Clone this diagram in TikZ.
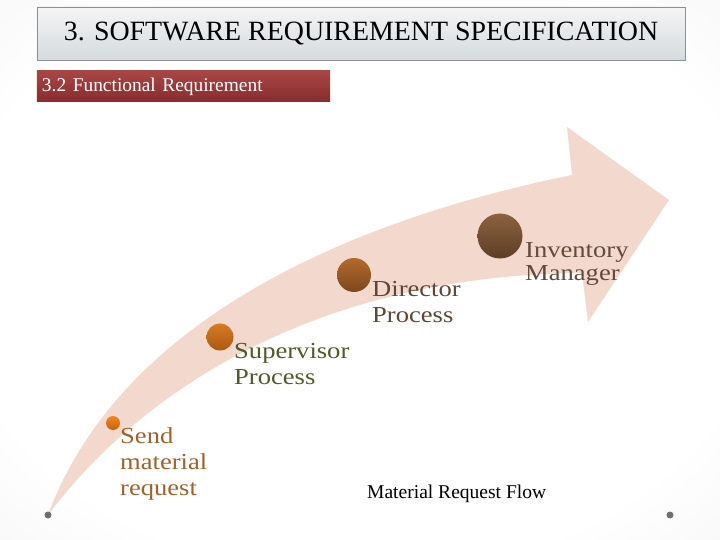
\documentclass[tikz,border=0pt]{standalone}
\usepackage{fontspec}
\newfontfamily\timesf{Liberation Serif}
\newfontfamily\widef[FakeStretch=1.16]{Liberation Serif}
\usetikzlibrary{shadings}
\pgfdeclareradialshading{bgshade}{\pgfpoint{0bp}{0bp}}{color(0bp)=(white); color(28bp)=(white); color(72bp)=(black!14)}
\definecolor{arrowfill}{RGB}{243,217,205}
\definecolor{sendc}{RGB}{160,98,45}
\definecolor{supc}{RGB}{79,90,40}
\definecolor{dirc}{RGB}{95,70,55}
\definecolor{invc}{RGB}{95,75,60}
\definecolor{titleborder}{RGB}{140,145,148}
\definecolor{redtop}{RGB}{168,70,70}
\definecolor{redbot}{RGB}{136,44,44}
\tikzset{
  titlebox/.style={draw=titleborder, line width=0.8bp, top color=black!4, bottom color={rgb,255:red,212;green,218;blue,222},
    minimum width=648bp, minimum height=53bp, inner sep=0, font=\timesf\fontsize{28}{32}\selectfont},
  subbox/.style={top color=redtop, bottom color=redbot, text=white, text width=283bp, align=left,
    inner xsep=5bp, inner ysep=0, minimum height=31bp, font=\timesf\fontsize{19.5}{22}\selectfont},
  dot/.style={circle, inner sep=0, draw=none},
  lbl/.style={anchor=north west, align=left, inner sep=0, font=\widef\fontsize{23}{26}\selectfont},
  pin/.style={circle, inner sep=0, minimum size=7bp, fill={rgb,255:red,110;green,110;blue,112}}
}
\begin{document}
\begin{tikzpicture}[x=1bp,y=-1bp]
\useasboundingbox (0,0) rectangle (720,540);
\shade[shading=bgshade] (0,0) rectangle (720,540);
% title
\node[titlebox] (title) at (361,33.5) {3. SOFTWARE REQUIREMENT SPECIFICATION};
\node[subbox] (sub) at (183.5,86.5) {3.2 Functional Requirement};
% arrow
\fill[arrowfill] (48,515) .. controls (120,320) and (350,220) .. (572,175)
  -- (567,127) -- (669,200) -- (588,322) -- (582,273)
  .. controls (330,275) and (150,380) .. (48,515) -- cycle;
% circles
\node[dot, minimum size=14bp, top color={rgb,255:red,242;green,136;blue,34}, bottom color={rgb,255:red,200;green,96;blue,10}] (c1) at (113,423) {};
\node[dot, minimum size=27bp, top color={rgb,255:red,214;green,124;blue,36}, bottom color={rgb,255:red,172;green,88;blue,18}] (c2) at (220,337) {};
\node[dot, minimum size=34bp, top color={rgb,255:red,178;green,106;blue,44}, bottom color={rgb,255:red,124;green,72;blue,30}] (c3) at (354,275) {};
\node[dot, minimum size=45bp, top color={rgb,255:red,140;green,98;blue,64}, bottom color={rgb,255:red,92;green,62;blue,38}] (c4) at (500,236) {};
% labels
\node[lbl, text=sendc] (l1) at (120,427.8) {Send\\material\\request};
\node[lbl, text=supc] (l2) at (234,342.8) {Supervisor\\Process};
\node[lbl, text=dirc] (l3) at (372,280.8) {Director\\Process};
\node[lbl, text=invc, font=\widef\fontsize{23}{24}\selectfont] (l4) at (525,241.8) {Inventory\\Manager};
\node[anchor=west, inner sep=0, font=\timesf\fontsize{19.6}{22}\selectfont] (cap) at (367,494) {Material Request Flow};
% corner pins
\node[pin] (p1) at (48,515) {};
\node[pin] (p2) at (670,515) {};
\end{tikzpicture}
\end{document}
